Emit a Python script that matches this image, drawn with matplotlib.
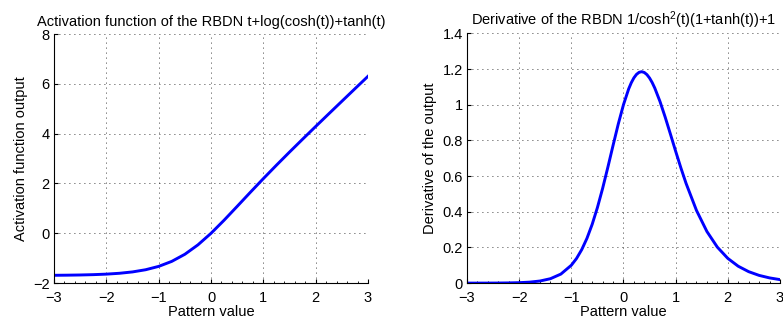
import numpy as np
import matplotlib
matplotlib.use('Agg')
import matplotlib.pyplot as plt
from matplotlib.ticker import FuncFormatter, AutoMinorLocator

plt.rcParams['font.family'] = ['Liberation Sans', 'DejaVu Sans']
plt.rcParams['mathtext.fontset'] = 'custom'
plt.rcParams['mathtext.rm'] = 'Liberation Sans'
plt.rcParams['mathtext.it'] = 'Liberation Sans'

# Aktivierungsfunktion (links)
t_act = [-3.0, -2.75, -2.5, -2.25, -2.0, -1.75, -1.5, -1.25, -1.0, -0.75, -0.5, -0.25,
         0.0, 0.25, 0.5, 0.75, 1.0, 1.25, 1.5, 1.75, 2.0, 2.25, 2.5, 2.75, 3.0]
act = [-1.686, -1.681, -1.673, -1.660, -1.639, -1.605, -1.550, -1.463, -1.328, -1.127, -0.842, -0.464,
       0.0, 0.526, 1.082, 1.643, 2.195, 2.734, 3.261, 3.778, 4.289, 4.796, 5.300, 5.803, 6.304]

# Ableitung (rechts)
t_der = [-3.0, -2.8, -2.6, -2.4, -2.2, -2.0, -1.8, -1.6, -1.4, -1.2, -1.0,
         -0.9, -0.8, -0.7, -0.6, -0.5, -0.4, -0.3, -0.2, -0.1, 0.0,
         0.1, 0.15, 0.2, 0.25, 0.3, 0.35, 0.4, 0.45, 0.5, 0.55, 0.6, 0.7, 0.8, 0.9, 1.0, 1.1, 1.2,
         1.4, 1.6, 1.8, 2.0, 2.2, 2.4, 2.6, 2.8, 3.0]
der = [0.0001, 0.0001, 0.0002, 0.0005, 0.0012, 0.0025, 0.0055, 0.0118, 0.0248, 0.0507, 0.1001,
       0.1381, 0.1878, 0.2511, 0.3294, 0.4230, 0.5305, 0.6486, 0.7714, 0.8914, 1.0,
       1.0888, 1.1234, 1.1507, 1.1702, 1.1817, 1.1852, 1.1807, 1.1688, 1.1499, 1.1246, 1.0937,
       1.0184, 0.9303, 0.8357, 0.7398, 0.6467, 0.5593,
       0.4075, 0.2893, 0.2016, 0.1388, 0.0947, 0.0643, 0.0434, 0.0293, 0.0197]

titles = ['Activation function of the RBDN t+log(cosh(t))+tanh(t)',
          r'Derivative of the RBDN 1/cosh$^2$(t)(1+tanh(t))+1']
ylabels = ['Activation function output', 'Derivative of the output']

FS = 10.5


def fmt(v, pos):
    return ('%g' % v).replace('-', '\u2212')


fig = plt.figure(figsize=(7.83, 3.21), dpi=100)
ax1 = fig.add_axes([0.069, 0.118, 0.401, 0.776])
ax2 = fig.add_axes([0.5964, 0.118, 0.3997, 0.778])

ax1.plot(t_act, act, color='#0000ff', linewidth=2.1)
ax1.set_ylim(-2, 8)
ax1.set_yticks(np.arange(-2, 9, 2))

ax2.plot(t_der, der, color='#0000ff', linewidth=2.1)
ax2.set_ylim(0, 1.4)
ax2.set_yticks(np.arange(0, 1.41, 0.2))

for ax, ti, yl in zip([ax1, ax2], titles, ylabels):
    ax.set_xlim(-3, 3)
    ax.set_xticks(np.arange(-3, 4, 1))
    ax.xaxis.set_major_formatter(FuncFormatter(fmt))
    ax.yaxis.set_major_formatter(FuncFormatter(fmt))
    ax.xaxis.set_minor_locator(AutoMinorLocator(5))
    ax.tick_params(direction='in', length=3, labelsize=FS)
    ax.tick_params(axis='x', pad=5.5)
    ax.tick_params(axis='y', pad=3)
    ax.tick_params(which='minor', direction='in', length=1.5)
    ax.tick_params(axis='y', which='minor', left=False)
    ax.spines['top'].set_visible(False)
    ax.spines['right'].set_visible(False)
    ax.grid(True, linestyle=(0, (1, 5)), color='black', linewidth=0.6)
    ax.set_title(ti, fontsize=FS, pad=6)
    ax.set_ylabel(yl, fontsize=FS, labelpad=4)
    ax.set_xlabel('Pattern value', fontsize=FS, labelpad=0.5)

fig.savefig('out.png', dpi=100)
